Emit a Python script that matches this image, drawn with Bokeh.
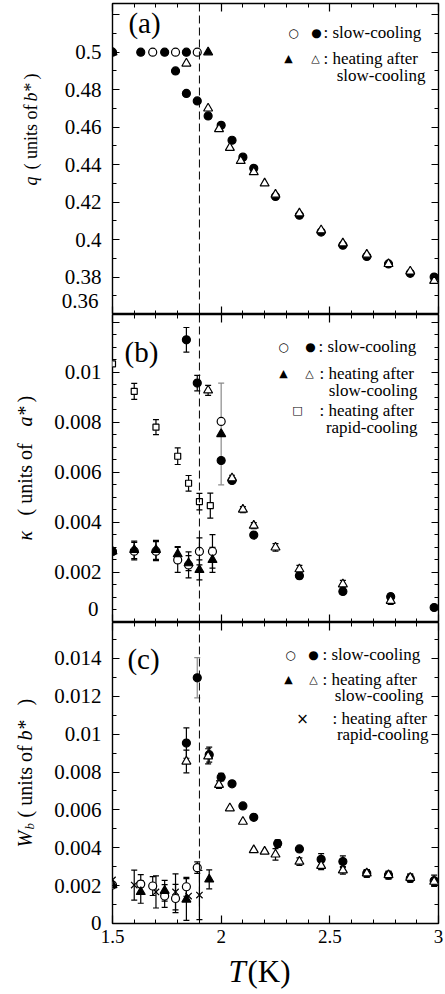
import math
from bokeh.plotting import figure
from bokeh.layouts import column, row
from bokeh.models import (Range1d, LinearAxis, SingleIntervalTicker, FixedTicker, CustomJSTickFormatter,
                          Span, Label, Whisker, TeeHead, ColumnDataSource)
from bokeh.embed import file_html
from bokeh.resources import INLINE

# ---------------- data ----------------
# Panel (a): q (units of b*)
a_sc_filled_T = [1.50, 1.63, 1.74, 1.84, 1.79, 1.84, 1.89, 1.94, 2.00, 2.05, 2.10, 2.15, 2.25, 2.36, 2.46, 2.56, 2.67, 2.77, 2.87, 2.98]
a_sc_filled_q = [0.500, 0.500, 0.500, 0.500, 0.490, 0.478, 0.474, 0.466, 0.461, 0.453, 0.444, 0.438, 0.423, 0.413, 0.404, 0.397, 0.391, 0.387, 0.382, 0.380]
a_sc_open_T = [1.685, 1.79, 1.89]
a_sc_open_q = [0.500, 0.500, 0.500]
a_hs_filled_T = [1.50, 1.94]
a_hs_filled_q = [0.500, 0.500]
a_hs_open_T = [1.84, 1.94, 1.99, 2.04, 2.09, 2.15, 2.20, 2.25, 2.36, 2.46, 2.56, 2.67, 2.77, 2.87, 2.98]
a_hs_open_q = [0.494, 0.470, 0.459, 0.449, 0.442, 0.436, 0.430, 0.424, 0.414, 0.405, 0.398, 0.392, 0.387, 0.383, 0.378]

# Panel (b): kappa (units of a*)
b_sc_filled_T = [1.50, 1.84, 1.89, 2.00, 2.05, 2.15, 2.36, 2.56, 2.78, 2.98]
b_sc_filled_k = [0.00284, 0.01129, 0.00956, 0.00647, 0.00567, 0.00349, 0.00187, 0.00124, 0.00103, 0.00060]
b_sc_filled_e = [0, 0.00049, 0.00031, 0, 0, 0, 0.00012, 0.00012, 0.00012, 0]
b_sc_open_T = [1.60, 1.70, 1.80, 1.85, 1.90, 1.96, 2.00]
b_sc_open_k = [0.00285, 0.00285, 0.00250, 0.00230, 0.00284, 0.00284, 0.00803]
b_sc_open_e = [0.00035, 0.00038, 0.00050, 0.00052, 0.00054, 0.00067, 0]
b_hs_filled_T = [1.50, 1.60, 1.70, 1.80, 1.85, 1.90, 1.96, 2.00]
b_hs_filled_k = [0.00284, 0.00290, 0.00290, 0.00273, 0.00237, 0.00210, 0.00250, 0.00753]
b_hs_filled_e = [0, 0.00035, 0.00038, 0.00030, 0.00030, 0.00040, 0.00050, 0.00203]
b_hs_open_T = [1.94, 2.05, 2.10, 2.15, 2.25, 2.36, 2.56, 2.78]
b_hs_open_k = [0.00927, 0.00576, 0.00451, 0.00387, 0.00300, 0.00213, 0.00153, 0.00087]
b_hs_open_e = [0.00020, 0.00012, 0.00012, 0.00012, 0.00015, 0.00015, 0.00015, 0.00015]
b_rc_T = [1.50, 1.60, 1.70, 1.80, 1.85, 1.90, 1.95]
b_rc_k = [0.01033, 0.00923, 0.00780, 0.00664, 0.00556, 0.00483, 0.00467]
b_rc_e = [0, 0.00032, 0.00030, 0.00033, 0.00031, 0.00033, 0.00050]

# Panel (c): W_b (units of b*)
c_sc_filled_T = [1.84, 1.89, 1.945, 2.00, 2.05, 2.10, 2.15, 2.26, 2.36, 2.46, 2.56, 2.67, 2.77, 2.87, 2.98]
c_sc_filled_w = [0.00953, 0.01298, 0.00892, 0.00773, 0.00738, 0.00621, 0.00561, 0.00422, 0.00394, 0.00339, 0.00327, 0.00265, 0.00256, 0.00238, 0.00226]
c_sc_filled_e = [0.0008, 0.00106, 0.0004, 0.0002, 0, 0, 0, 0.0002, 0, 0.0003, 0.0003, 0.0002, 0.0002, 0.0002, 0.0003]
c_sc_open_T = [1.50, 1.63, 1.685, 1.74, 1.79, 1.84, 1.89]
c_sc_open_w = [0.00203, 0.00208, 0.00198, 0.00145, 0.00132, 0.00194, 0.00295]
c_sc_open_e = [0, 0.0005, 0.0005, 0.0006, 0.00075, 0.0005, 0.0003]
c_hs_filled_T = [1.50, 1.63, 1.74, 1.84, 1.945]
c_hs_filled_w = [0.00203, 0.00167, 0.00173, 0.00127, 0.00233]
c_hs_filled_e = [0, 0.0006, 0.00055, 0.0011, 0.0005]
c_hs_open_T = [1.84, 1.94, 1.99, 2.04, 2.10, 2.15, 2.20, 2.25, 2.36, 2.46, 2.56, 2.67, 2.77, 2.87, 2.98]
c_hs_open_w = [0.00856, 0.00883, 0.00733, 0.00609, 0.00538, 0.00388, 0.00380, 0.00365, 0.00327, 0.00305, 0.00281, 0.00265, 0.00256, 0.00242, 0.00221]
c_hs_open_e = [0.0006, 0.0004, 0.0002, 0, 0, 0, 0, 0.0003, 0.0002, 0.0002, 0.0002, 0.0002, 0.0002, 0.0002, 0.0002]
c_rc_T = [1.50, 1.60, 1.70, 1.79, 1.85, 1.90]
c_rc_w = [0.00230, 0.00203, 0.00167, 0.00167, 0.00145, 0.00150]
c_rc_e = [0, 0.00079, 0.00085, 0.00095, 0, 0.0013]

T_c = 1.9
x_start, x_end = 1.5, 3.0
a_ylim = (0.36, 0.526)
b_ylim = (0.0, 0.0123)
c_ylim = (0.0, 0.0159)
legend_sc = ": slow-cooling"
legend_hs = [": heating after", "slow-cooling"]
legend_rc = [": heating after", "rapid-cooling"]

# ---------------- styling / layout ----------------
SERIF = "Liberation Serif"
SYM = "DejaVu Sans"
PAGE_W, PAGE_H = 445, 994
STRIP_W = 45            # left strip holding the y titles
MAIN_W = PAGE_W - STRIP_W
FL = 112                # page x of the frames' left edge
BL = FL - STRIP_W       # left border inside main figures
FR = 7
YLAB_PX = 21

FMT_CODE = r"""
const v = parseFloat(tick.toPrecision(6));
if (v > hi + 1e-12) return '';
if (hide_lo && Math.abs(v - lo) < 1e-6 * Math.max(1, Math.abs(lo))) return '';
return String(v);
"""


def fmt(lo=-1e9, hi=1e9, hide_lo=False):
    return CustomJSTickFormatter(args=dict(lo=lo, hi=hi, hide_lo=hide_lo), code=FMT_CODE)


def hide_labels(ax):
    ax.formatter = CustomJSTickFormatter(code="return '';")
    ax.major_label_text_font_size = "0px"
    ax.major_label_standoff = 0
    ax.axis_label = None


def style_axis(ax, ticker, major_in=7, minor_in=4):
    ax.ticker = ticker
    ax.major_tick_in = major_in
    ax.major_tick_out = 0
    ax.minor_tick_in = minor_in
    ax.minor_tick_out = 0
    ax.axis_line_color = None
    ax.major_tick_line_color = "black"
    ax.minor_tick_line_color = "black"
    ax.major_tick_line_width = 1.2
    ax.minor_tick_line_width = 1


def make_panel(height, ylim, yint, yminor, top_border, bottom_border, show_x_labels,
               label_hi, widest_label_em):
    ymin, ymax = ylim
    p = figure(width=MAIN_W, height=height, x_range=Range1d(x_start, x_end),
               y_range=Range1d(ymin - 1e-9, ymax),
               output_backend="svg", toolbar_location=None,
               min_border_left=BL, min_border_right=FR,
               min_border_top=top_border, min_border_bottom=bottom_border)
    p.grid.visible = False
    p.outline_line_color = "black"
    p.outline_line_width = 1.4
    p.background_fill_color = "white"
    p.border_fill_color = "white"
    xa = p.xaxis[0]
    style_axis(xa, SingleIntervalTicker(interval=0.5, num_minor_ticks=5), 8, 4)
    if show_x_labels:
        xa.formatter = fmt()
        xa.major_label_text_font = SERIF
        xa.major_label_text_font_size = "19px"
        xa.major_label_text_color = "black"
        xa.major_label_standoff = 6
    else:
        hide_labels(xa)
    ya = p.yaxis[0]
    style_axis(ya, SingleIntervalTicker(interval=yint, num_minor_ticks=yminor), 7, 4)
    ya.formatter = fmt(lo=ymin, hi=label_hi, hide_lo=not show_x_labels)
    ya.major_label_text_font = SERIF
    ya.major_label_text_font_size = f"{YLAB_PX}px"
    ya.major_label_text_color = "black"
    ya.major_label_standoff = 11
    if not show_x_labels:
        # lowest y label drawn just above the panel's bottom edge (panels touch)
        low = LinearAxis(ticker=FixedTicker(ticks=[ymin]), formatter=fmt())
        low.major_tick_in = 0
        low.major_tick_out = 0
        low.minor_tick_in = 0
        low.minor_tick_out = 0
        low.axis_line_color = None
        low.major_label_text_font = SERIF
        low.major_label_text_font_size = f"{YLAB_PX}px"
        low.major_label_text_color = "black"
        low.major_label_text_baseline = "bottom"
        low.major_label_standoff = int(round(11 - (11 + widest_label_em * YLAB_PX)))
        p.add_layout(low, "left")
    top = LinearAxis()
    style_axis(top, SingleIntervalTicker(interval=0.5, num_minor_ticks=5), 8, 4)
    hide_labels(top)
    p.add_layout(top, "above")
    right = LinearAxis()
    style_axis(right, SingleIntervalTicker(interval=yint, num_minor_ticks=yminor), 7, 4)
    hide_labels(right)
    p.add_layout(right, "right")
    p.add_layout(Span(location=T_c, dimension="height", line_color="black", line_width=1,
                      line_dash="8 4"))
    return p


def make_strip(w, h, bl=0, br=0):
    s = figure(width=w, height=h, x_range=Range1d(0, 1), y_range=Range1d(0, 1),
               output_backend="svg", toolbar_location=None, min_border=0,
               min_border_left=bl, min_border_right=br, min_border_top=0, min_border_bottom=0)
    s.axis.visible = False
    s.grid.visible = False
    s.outline_line_color = None
    s.background_fill_color = "white"
    s.border_fill_color = "white"
    return s


def errbars(p, T, v, e, gray_big=None):
    xs, lo, hi, xs_g, lo_g, hi_g = [], [], [], [], [], []
    for t, val, err in zip(T, v, e):
        if err and err > 0:
            if gray_big is not None and err >= gray_big:
                xs_g.append(t); lo_g.append(val - err); hi_g.append(val + err)
            else:
                xs.append(t); lo.append(val - err); hi.append(val + err)
    for xx, ll, hh, col in ((xs, lo, hi, "black"), (xs_g, lo_g, hi_g, "#8a8a8a")):
        if not xx:
            continue
        src = ColumnDataSource(dict(x=xx, lower=ll, upper=hh))
        p.add_layout(Whisker(source=src, base="x", lower="lower", upper="upper", dimension="height",
                             line_color=col, line_width=1.2,
                             upper_head=TeeHead(size=6, line_color=col, line_width=1.2),
                             lower_head=TeeHead(size=6, line_color=col, line_width=1.2)))


def pts(p, T, v, marker, filled, size):
    fc = "black" if filled else "white"
    p.scatter(T, v, marker=marker, size=size, fill_color=fc, line_color="black", line_width=1.2)


def put_text(p, x_rel, y_rel, text, size, style="normal", align="left", font=SERIF, angle=0.0):
    p.add_layout(Label(x=x_rel, y=y_rel, x_units="screen", y_units="screen", text=text,
                       text_font=font, text_font_size=f"{size}px", text_font_style=style,
                       text_align=align, text_baseline="middle", text_color="black", angle=angle))


def frame_text(p, fb, px, py, text, size, style="normal", align="left", font=SERIF):
    put_text(p, px - FL, fb - py, text, size, style, align, font)


def legend_rows(p, fb, rows):
    for r in rows:
        if r[0] == "sym":
            _, px, py, ch, sz = r
            frame_text(p, fb, px, py, ch, sz, align="center", font=SYM)
        else:
            _, px, py, txt, align = r
            frame_text(p, fb, px, py, txt, 17, align=align)


# ---------------- panel (a) ----------------
pa = make_panel(314, a_ylim, 0.02, 2, 3, 0, False, 0.505, 1.75)
fa = 314
pts(pa, a_sc_filled_T, a_sc_filled_q, "circle", True, 8)
pts(pa, a_sc_open_T, a_sc_open_q, "circle", False, 8)
pts(pa, a_hs_filled_T, a_hs_filled_q, "triangle", True, 9)
pts(pa, a_hs_open_T, a_hs_open_q, "triangle", False, 9)
frame_text(pa, fa, 144, 22, "(a)", 29, align="center")
legend_rows(pa, fa, [
    ("sym", 293, 32, "○", 12), ("sym", 316, 32, "●", 12), ("txt", 323, 32, legend_sc, "left"),
    ("sym", 288, 58, "▲", 11), ("sym", 315, 58, "△", 11), ("txt", 323, 58, legend_hs[0], "left"),
    ("txt", 425, 75, legend_hs[1], "right"),
])

# ---------------- panel (b) ----------------
pb = make_panel(308, b_ylim, 0.002, 4, 0, 0, False, 0.0105, 2.25)
fbb = 622
errbars(pb, b_rc_T, b_rc_k, b_rc_e)
errbars(pb, b_sc_filled_T, b_sc_filled_k, b_sc_filled_e)
errbars(pb, b_sc_open_T, b_sc_open_k, b_sc_open_e)
errbars(pb, b_hs_filled_T, b_hs_filled_k, b_hs_filled_e, gray_big=0.0015)
errbars(pb, b_hs_open_T, b_hs_open_k, b_hs_open_e)
pts(pb, b_rc_T, b_rc_k, "square", False, 6)
pts(pb, b_sc_filled_T, b_sc_filled_k, "circle", True, 8)
pts(pb, b_sc_open_T, b_sc_open_k, "circle", False, 8)
pts(pb, b_hs_filled_T, b_hs_filled_k, "triangle", True, 9)
pts(pb, b_hs_open_T, b_hs_open_k, "triangle", False, 9)
frame_text(pb, fbb, 141, 351, "(b)", 29, align="center")
legend_rows(pb, fbb, [
    ("sym", 283, 346, "○", 12), ("sym", 310, 346, "●", 12), ("txt", 318, 346, legend_sc, "left"),
    ("sym", 283, 373, "▲", 11), ("sym", 309, 373, "△", 11), ("txt", 319, 373, legend_hs[0], "left"),
    ("txt", 417, 390, legend_hs[1], "right"),
    ("sym", 297, 410, "□", 11), ("txt", 319, 410, legend_rc[0], "left"),
    ("txt", 417, 427, legend_rc[1], "right"),
])

# ---------------- panel (c) ----------------
PC_BOTTOM = 29
pc = make_panel(301 + PC_BOTTOM, c_ylim, 0.002, 2, 0, PC_BOTTOM, True, 0.0145, 2.25)
fc = 923
errbars(pc, c_rc_T, c_rc_w, c_rc_e)
errbars(pc, c_sc_filled_T, c_sc_filled_w, c_sc_filled_e, gray_big=0.001)
errbars(pc, c_sc_open_T, c_sc_open_w, c_sc_open_e)
errbars(pc, c_hs_filled_T, c_hs_filled_w, c_hs_filled_e)
errbars(pc, c_hs_open_T, c_hs_open_w, c_hs_open_e)
pts(pc, c_rc_T, c_rc_w, "x", False, 9)
pts(pc, c_sc_filled_T, c_sc_filled_w, "circle", True, 8)
pts(pc, c_sc_open_T, c_sc_open_w, "circle", False, 8)
pts(pc, c_hs_filled_T, c_hs_filled_w, "triangle", True, 9)
pts(pc, c_hs_open_T, c_hs_open_w, "triangle", False, 9)
frame_text(pc, fc, 143, 658, "(c)", 29, align="center")
legend_rows(pc, fc, [
    ("sym", 290, 654, "○", 12), ("sym", 313, 654, "●", 12), ("txt", 322, 654, legend_sc, "left"),
    ("sym", 288, 679, "▲", 11), ("sym", 313, 679, "△", 11), ("txt", 322, 679, legend_hs[0], "left"),
    ("txt", 423, 695, legend_hs[1], "right"),
    ("sym", 302, 718, "×", 15), ("txt", 332, 718, legend_rc[0], "left"),
    ("txt", 428, 734, legend_rc[1], "right"),
])

# ---------------- bottom strip: x title ----------------
BOT_TOP = 923 + PC_BOTTOM
BOT_H = PAGE_H - BOT_TOP
bot = make_strip(MAIN_W, BOT_H, BL, FR)
put_text(bot, 228 - FL, PAGE_H - 971, "T", 31, "italic")
put_text(bot, 247 - FL, PAGE_H - 971, "(K)", 31)

# ---------------- left strip: y titles ----------------
left = make_strip(STRIP_W, PAGE_H)
V = math.pi / 2


def vt(px, py, text, size, style="normal"):
    put_text(left, px, PAGE_H - py, text, size, style, angle=V)


vt(30, 185, "q", 18, "italic")
vt(30, 169, "( units of", 18)
vt(30, 101, "b*", 18, "italic")
vt(30, 79, ")", 18)

vt(24, 540, "κ", 20, "italic")
vt(24, 515, "( units of", 20)
vt(24, 426, "a*", 20, "italic")
vt(24, 402, ")", 20)

vt(24, 847, "W", 20, "italic")
vt(29, 829, "b", 13, "italic")
vt(24, 817, "( units of", 20)
vt(24, 740, "b*", 20, "italic")
vt(24, 705, ")", 20)

layout = row(left, column(pa, pb, pc, bot, spacing=0), spacing=0)
open("out.html", "w").write(file_html(layout, INLINE))
